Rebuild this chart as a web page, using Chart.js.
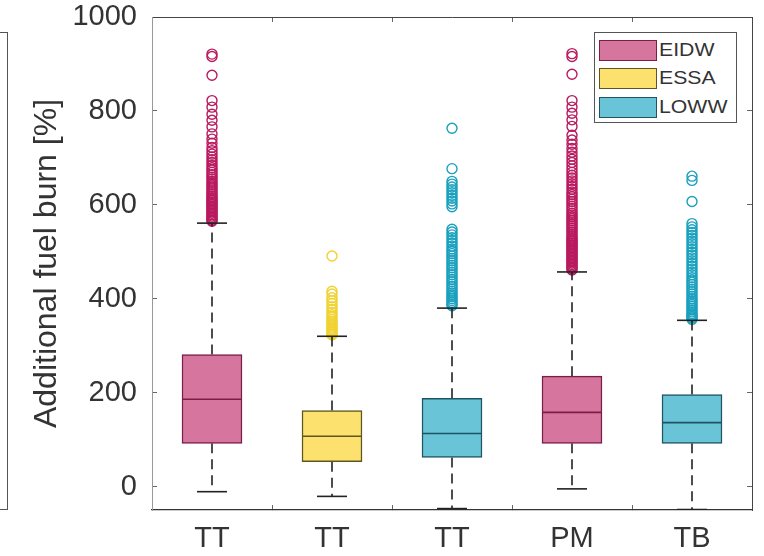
<!DOCTYPE html>
<html>
<head>
<meta charset="utf-8">
<script src="https://cdn.jsdelivr.net/npm/chart.js@4.4.1/dist/chart.umd.min.js"></script>
<style>
  body { margin: 0; background: #fff; }
  #wrap { position: relative; width: 764px; height: 556px; }
  #bracket { position: absolute; left: -2px; top: 32px; width: 9px; height: 476px; border: 1.5px solid #555; border-left: none; }
  #legend { position: absolute; left: 594px; top: 32px; width: 143px; height: 91px; border: 1px solid #555; background: #fff;
    font-family: 'Liberation Sans', Arial, sans-serif; font-size: 18px; color: #333; box-sizing: border-box; padding-top: 3px; }
  .row { display: flex; align-items: center; height: 28.5px; }
  .sw { width: 58px; height: 21px; margin-left: 4px; border: 1.5px solid #333; box-sizing: border-box; }
  .lab { margin-left: 2px; transform: scaleX(1.18); transform-origin: left center; }
</style>
</head>
<body>
<div id="wrap">
  <canvas id="chart" width="764" height="556"></canvas>
  <div id="bracket"></div>
  <div id="legend"></div>
</div>
<script>
const groups = ['TT', 'TT', 'TT', 'PM', 'TB'];
const airports = ['EIDW', 'ESSA', 'LOWW'];
const boxAirport = [0, 1, 2, 0, 2];

const q1 = [92, 53, 62, 92, 92];
const median = [186, 107, 113, 158, 136];
const q3 = [281, 162, 188, 235, 196];
const lowWhisker = [-11, -21, -47, -5, -49];
const highWhisker = [561, 320, 380, 457, 354];

const outEIDW_TT = [921, 916, 876, 822, 808, 793, 780, 766, 751, 740, 731, 722, 715, 708, 702, 696, 690, 684, 679,
  674, 669, 664, 659, 655, 650, 646, 642, 638, 634, 630, 626, 622, 618, 615, 612, 609, 606, 603, 600, 597, 594,
  591, 588, 585, 582, 579, 576, 573, 570, 567, 565];
const outESSA_TT = [491, 416, 410, 402, 396, 390, 383, 377, 371, 366, 361, 356, 352, 348, 344, 340, 337, 334, 331,
  328, 325, 323];
const outLOWW_TT = [763, 677, 650, 644, 638, 632, 626, 620, 614, 608, 602, 596, 548, 542, 536, 530, 524, 518, 512,
  506, 501, 496, 491, 486, 481, 476, 471, 466, 461, 456, 451, 446, 441, 436, 431, 426, 421, 416, 412, 408, 404,
  400, 396, 392, 388, 385];
const outEIDW_PM = [922, 916, 878, 822, 808, 795, 781, 767, 748, 738, 729, 720, 712, 704, 697, 690, 683, 676, 669,
  663, 657, 651, 645, 639, 633, 627, 622, 617, 612, 607, 602, 597, 592, 587, 582, 578, 574, 570, 566, 562, 558,
  554, 550, 546, 542, 538, 534, 530, 527, 524, 521, 518, 515, 512, 509, 506, 503, 500, 497, 494, 491, 488, 485,
  482, 479, 476, 473, 470, 467, 464, 461];
const outLOWW_TB = [661, 652, 607, 560, 553, 547, 541, 535, 529, 523, 517, 511, 505, 499, 493, 487, 481, 475, 469,
  463, 457, 451, 445, 440, 435, 430, 425, 420, 415, 410, 405, 400, 396, 392, 388, 384, 380, 376, 372, 368, 365,
  362, 359, 356];
const outliers = [outEIDW_TT, outESSA_TT, outLOWW_TT, outEIDW_PM, outLOWW_TB];

const yTicks = [0, 200, 400, 600, 800, 1000];

const fillColors = ['#d6769f', '#fce16e', '#68c4d6'];
const edgeColors = ['#7a1e48', '#5e5520', '#1f5563'];
const dotColors = ['#b9195f', '#f0d230', '#19a0be'];
const font = "'Liberation Sans', Arial, sans-serif";

function seg(a, b, color, dash, order) {
  return {
    type: 'line',
    data: [{x: a[0], y: a[1]}, {x: b[0], y: b[1]}],
    borderColor: color,
    borderWidth: 1.6,
    borderDash: dash,
    pointRadius: 0,
    fill: false,
    order: order
  };
}

const datasets = [];
airports.forEach((name, a) => {
  datasets.push({
    type: 'bar',
    label: name,
    data: groups.map((g, i) => boxAirport[i] === a ? {x: i + 1, y: [q1[i], q3[i]]} : null).filter(d => d),
    backgroundColor: fillColors[a],
    borderColor: edgeColors[a],
    borderWidth: 1.5,
    borderSkipped: false,
    barThickness: 60,
    grouped: false,
    order: 3
  });
});

groups.forEach((g, i) => {
  const a = boxAirport[i];
  const x = i + 1;
  datasets.push(seg([x - 0.25, median[i]], [x + 0.25, median[i]], edgeColors[a], [], 1));
  datasets.push(seg([x, q3[i]], [x, highWhisker[i]], '#222', [10, 6], 4));
  datasets.push(seg([x, q1[i]], [x, lowWhisker[i]], '#222', [10, 6], 4));
  datasets.push(seg([x - 0.125, highWhisker[i]], [x + 0.125, highWhisker[i]], '#222', [], 0));
  datasets.push(seg([x - 0.125, lowWhisker[i]], [x + 0.125, lowWhisker[i]], '#222', [], 0));
  datasets.push({
    type: 'scatter',
    data: outliers[i].map(v => ({x: x, y: v})),
    pointStyle: 'circle',
    pointRadius: 5,
    pointBorderWidth: 1.4,
    pointBorderColor: dotColors[a],
    pointBackgroundColor: 'rgba(0,0,0,0)',
    order: 5
  });
});

const xTickSetup = s => { s.ticks = groups.map((g, i) => ({value: i + 1})); };
const yTickSetup = s => { s.ticks = yTicks.map(v => ({value: v})); };

new Chart(document.getElementById('chart'), {
  type: 'bar',
  data: { datasets: datasets },
  options: {
    responsive: false,
    animation: false,
    layout: { padding: { top: 17, right: 12, left: 0, bottom: 0 } },
    plugins: {
      legend: { display: false },
      tooltip: { enabled: false }
    },
    scales: {
      x: {
        type: 'linear', min: 0.5, max: 5.5, offset: false,
        afterBuildTicks: xTickSetup,
        afterFit: s => { s.height = 46; s.paddingLeft = 0; s.paddingRight = 0; },
        grid: { drawOnChartArea: false, tickLength: -5, color: '#666' },
        border: { color: '#333', width: 1.2 },
        ticks: { callback: v => groups[v - 1], padding: 17, color: '#333', font: { family: font, size: 29 }, maxRotation: 0 }
      },
      x2: {
        type: 'linear', position: 'top', min: 0.5, max: 5.5, offset: false,
        afterBuildTicks: xTickSetup,
        afterFit: s => { s.height = 0; },
        grid: { drawOnChartArea: false, tickLength: -5, color: '#666' },
        border: { color: '#444', width: 1 },
        ticks: { display: false }
      },
      y: {
        min: -50, max: 1000,
        afterBuildTicks: yTickSetup,
        afterFit: s => { s.width = 152; s.paddingTop = 0; s.paddingBottom = 0; },
        grid: { drawOnChartArea: false, tickLength: -5, color: '#666' },
        border: { color: '#999', width: 1 },
        ticks: { callback: v => String(v), padding: 20, color: '#333', font: { family: font, size: 29 } },
        title: { display: true, text: 'Additional fuel burn [%]', color: '#333', font: { family: font, size: 32 }, padding: { top: 28, bottom: 0 } }
      },
      y2: {
        position: 'right', min: -50, max: 1000,
        afterBuildTicks: yTickSetup,
        afterFit: s => { s.width = 0; s.paddingTop = 0; s.paddingBottom = 0; },
        grid: { drawOnChartArea: false, tickLength: -5, color: '#666' },
        border: { color: '#444', width: 1 },
        ticks: { display: false }
      }
    }
  }
});

const legend = document.getElementById('legend');
airports.forEach((name, a) => {
  const row = document.createElement('div');
  row.className = 'row';
  row.innerHTML = '<div class="sw" style="background:' + fillColors[a] + ';border-color:' + edgeColors[a] + '"></div>' +
    '<span class="lab">' + name + '</span>';
  legend.appendChild(row);
});
</script>
</body>
</html>
